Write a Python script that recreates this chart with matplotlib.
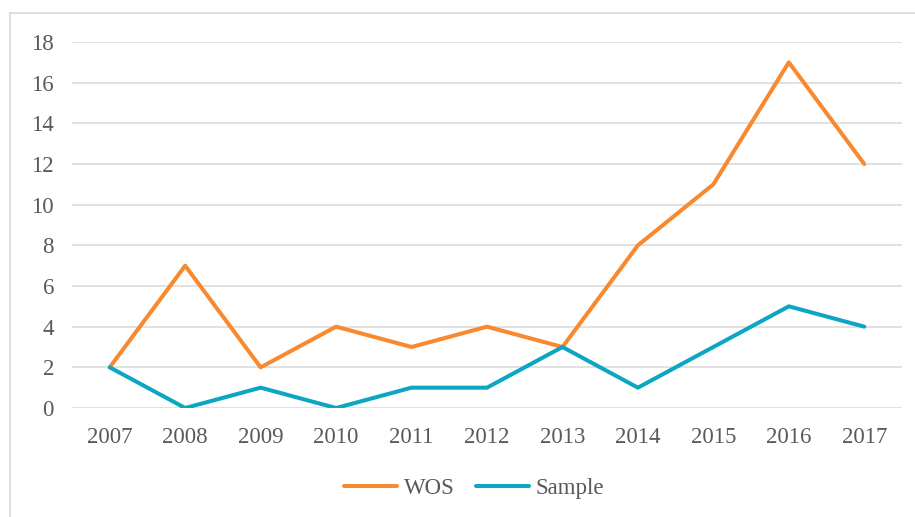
import matplotlib
matplotlib.use("Agg")
import matplotlib.pyplot as plt
from matplotlib.lines import Line2D

years = ["2007", "2008", "2009", "2010", "2011", "2012", "2013", "2014", "2015", "2016", "2017"]
wos = [2, 7, 2, 4, 3, 4, 3, 8, 11, 17, 12]
sample = [2, 0, 1, 0, 1, 1, 3, 1, 3, 5, 4]
yticks = [0, 2, 4, 6, 8, 10, 12, 14, 16, 18]

W, H = 915, 517
fig = plt.figure(figsize=(W / 100, H / 100), dpi=100)
plt.rcParams['font.family'] = ['Liberation Serif', 'DejaVu Serif']

ax = fig.add_axes([72 / W, 1 - 408 / H, (902 - 72) / W, (408 - 42) / H])
x = range(len(years))
ax.plot(x, wos, color='#F8892F', lw=2.9, solid_joinstyle='round', solid_capstyle='round', label='WOS', zorder=3)
ax.plot(x, sample, color='#0CA6C3', lw=2.9, solid_joinstyle='round', solid_capstyle='round', label='Sample', zorder=3)

ax.set_xlim(-0.5, len(years) - 0.5)
ax.set_ylim(0, 18)
ax.set_yticks(yticks)
ax.set_xticks(list(x))
ax.set_xticklabels(years)
ax.grid(axis='y', color='#d9d9d9', lw=1.1)
ax.set_axisbelow(True)
for s in ax.spines.values():
    s.set_visible(False)
ax.tick_params(length=0, labelsize=16.5, colors='#595959')
ax.tick_params(axis='x', pad=14)
ax.tick_params(axis='y', pad=13)

leg = fig.legend(loc='center', bbox_to_anchor=(474 / W, 1 - 488 / H), ncol=2, frameon=False,
                 fontsize=16.5, handlelength=2.3, columnspacing=0.95, handletextpad=0.3)
for t in leg.get_texts():
    t.set_color('#595959')

# outer border (only left and top visible in the crop)
fig.add_artist(Line2D([10 / W, 10 / W], [0, 1 - 13 / H], transform=fig.transFigure, color='#d9d9d9', lw=1.2))
fig.add_artist(Line2D([10 / W, 1], [1 - 13 / H, 1 - 13 / H], transform=fig.transFigure, color='#d9d9d9', lw=1.2))

fig.savefig('out.png', dpi=100)
